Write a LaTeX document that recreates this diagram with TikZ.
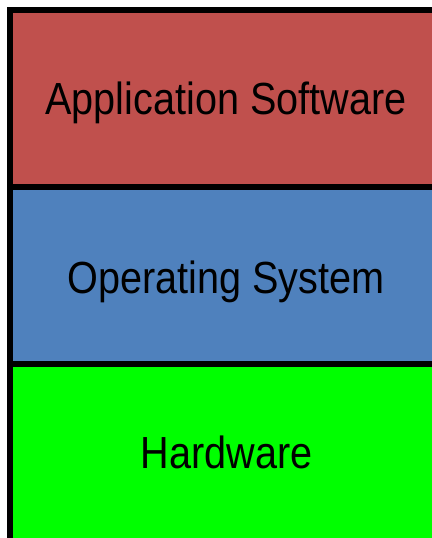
\documentclass[tikz,border=0pt]{standalone}
\usepackage{fontspec}
\setmainfont{Liberation Sans}
\definecolor{appred}{HTML}{C0504D}
\definecolor{osblue}{HTML}{4F81BD}
\definecolor{hwgreen}{HTML}{00FF00}
\begin{document}
\begin{tikzpicture}[x=1pt,y=-1pt,
  layer/.style={draw=black,line width=6pt,minimum width=431.4pt,minimum height=177pt,inner sep=0pt,outer sep=0pt,anchor=north west},
  label/.style={anchor=base,inner sep=0pt,font=\fontsize{45}{50}\selectfont}]
  \useasboundingbox (0,0) rectangle (431,538);
  \node[layer,fill=appred]  (app) at (10.3,10.3) {};
  \node[layer,fill=osblue]  (os)  at (10.3,187.3) {};
  \node[layer,fill=hwgreen] (hw)  at (10.3,364.3) {};
  \node[label] (appt) at (226,114.5) {\scalebox{0.88}[1]{Application Software}};
  \node[label] (ost)  at (226,293) {\scalebox{0.88}[1]{Operating System}};
  \node[label] (hwt)  at (226.5,468) {\scalebox{0.88}[1]{Hardware}};
\end{tikzpicture}
\end{document}
